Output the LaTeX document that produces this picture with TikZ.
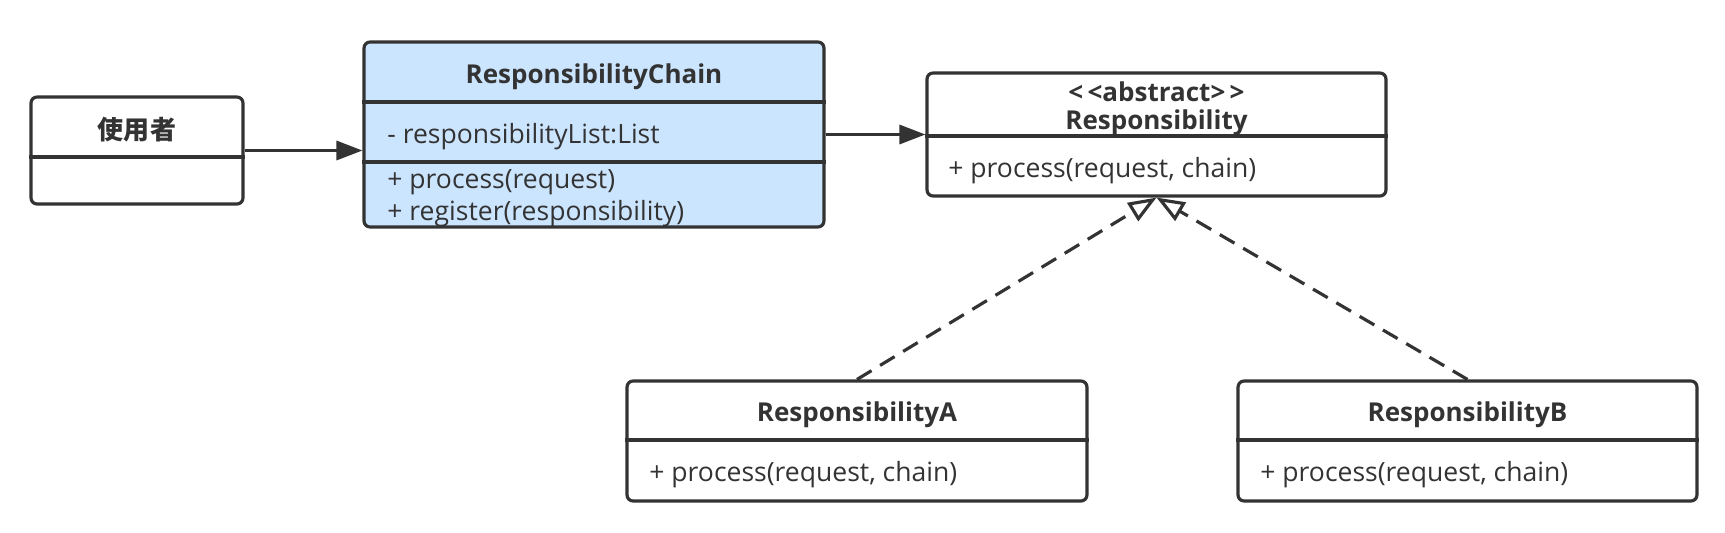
\documentclass[tikz,border=0pt]{standalone}
\usepackage{fontspec}
\setmainfont{Open Sans}
\newfontfamily\cjk{Noto Sans CJK SC}
\usetikzlibrary{calc}
\usetikzlibrary{arrows.meta}
\definecolor{umlline}{HTML}{333333}
\definecolor{umlfill}{HTML}{CCE5FF}
\tikzset{
 classbox/.style={draw=umlline, line width=1.8pt, rounded corners=0.12cm, inner sep=0pt},
 divider/.style={draw=umlline, line width=1.8pt},
 title/.style={font=\fontsize{14.8}{17}\selectfont\bfseries, text=umlline, inner sep=0pt},
 member/.style={font=\fontsize{15.1}{17}\selectfont, text=umlline, anchor=west, inner sep=0pt},
 assoc/.style={draw=umlline, line width=1.8pt, -{Triangle[length=0.52cm,width=0.38cm]}},
 realize/.style={draw=umlline, line width=1.8pt, dash pattern=on 0.34cm off 0.2cm,
   -{Triangle[open,length=0.56cm,width=0.42cm,line width=1.8pt]}}
}

\begin{document}
\begin{tikzpicture} [x=0.02cm, y=-0.02cm]
\useasboundingbox (0,0) rectangle (1725,532);
\node[classbox, minimum width=4.24cm, minimum height=2.14cm] (user) at (137,150.5) {};
\node[classbox, fill=umlfill, minimum width=9.2cm, minimum height=3.7cm] (chain) at (594,134.5) {};
\node[classbox, minimum width=9.18cm, minimum height=2.46cm] (resp) at (1156.5,134.5) {};
\node[classbox, minimum width=9.2cm, minimum height=2.4cm] (respA) at (857,441) {};
\node[classbox, minimum width=9.18cm, minimum height=2.4cm] (respB) at (1467.5,441) {};

\draw[divider] (user.west |- 0,157) -- (user.east |- 0,157);
\draw[divider] (chain.west |- 0,102) -- (chain.east |- 0,102);
\draw[divider] (chain.west |- 0,162) -- (chain.east |- 0,162);
\draw[divider] (resp.west |- 0,136) -- (resp.east |- 0,136);
\foreach \c in {respA,respB} {
 \draw[divider] (\c.west |- 0,440) -- (\c.east |- 0,440);
}

\node[title] (userT) at (137,130) {\cjk 使用者};
\node[title] (chainT) at (594,76.5) {ResponsibilityChain};
\node[member] (chainA) at (387,136.5) {- responsibilityList:List};
\node[member] (chainM1) at (387,182.5) {+ process(request)};
\node[member] (chainM2) at (387,213.5) {+ register(responsibility)};
\node[title] (respS) at (1156.5,91.5) {\textless\,\textless abstract\textgreater\,\textgreater};
\node[title] (respT) at (1156.5,123) {Responsibility};
\node[member] (respM) at (948,171) {+ process(request, chain)};
\node[title] (respAT) at (857,414.5) {ResponsibilityA};
\node[member] (respAM) at (649,475) {+ process(request, chain)};
\node[title] (respBT) at (1467.5,414.5) {ResponsibilityB};
\node[member] (respBM) at (1260,475) {+ process(request, chain)};

\draw[assoc] (user.east) -- (user.east -| chain.west);
\draw[assoc] (chain.east) -- (resp.west);
\foreach \c in {respA,respB} {
 \draw[realize] (\c.north) -- (resp.south);
}
\end{tikzpicture}
\end{document}
